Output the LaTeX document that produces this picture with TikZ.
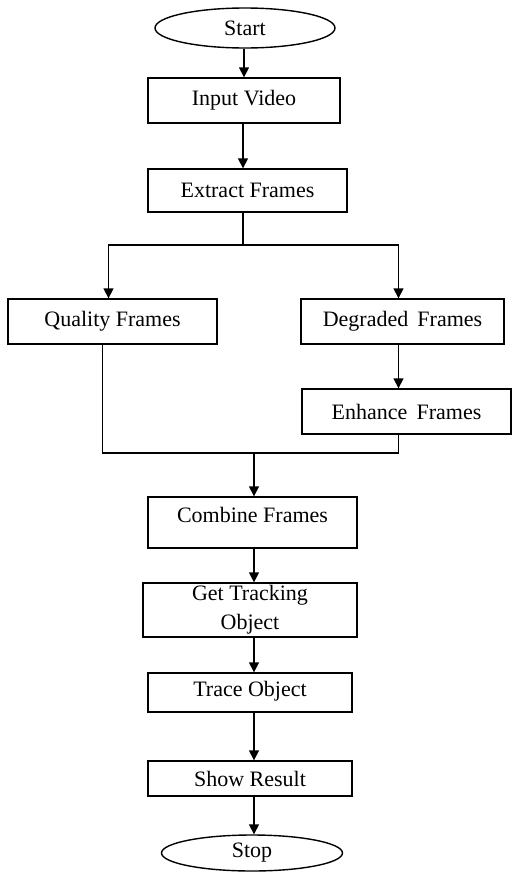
\documentclass[tikz,border=0pt]{standalone}
\usepackage{fontspec}
\setmainfont{Liberation Serif}
\usepackage{tikz}
\usetikzlibrary{shapes,arrows.meta,positioning}
\definecolor{FlowBlack}{HTML}{000000}
\definecolor{FlowWhite}{HTML}{ffffff}
\tikzset{
    % Base node style
    flownode/.style={
        draw=FlowBlack,
        fill=FlowWhite,
        line width=0.7pt,
        align=center,
        inner sep=1pt,
        font=\fontsize{11}{14.5}\selectfont
    },
    % Process box
    stepbox/.style={
        flownode,
        rectangle,
        minimum width=104pt,
        minimum height=22.5pt
    },
    % Terminal node
    termnode/.style={
        flownode,
        ellipse,
        minimum width=90pt,
        minimum height=19pt
    },
    % Arrow style
    myarrow/.style={
        ->,
        >={Triangle[length=5pt,width=5pt]},
        line width=0.8pt,
        draw=FlowBlack
    },
    % Plain line
    myline/.style={
        line width=0.8pt,
        draw=FlowBlack
    }
}
\begin{document}
\begin{tikzpicture}[x=0.5pt, y=-0.5pt]
    \useasboundingbox (0,0) rectangle (512,873);

    \node[termnode, minimum height=20pt] (start) at (245,28) {Start};
    \node[stepbox, minimum width=96pt] (input) at (244,100.5) {Input Video};
    \node[stepbox, minimum width=99.5pt, minimum height=21.5pt] (extract) at (247.5,190.5) {Extract Frames};
    \node[stepbox, minimum width=104.5pt] (quality) at (112.5,321.5) {Quality Frames};
    \node[stepbox, minimum width=101.5pt] (degraded) at (402.5,321.5) {Degraded\, Frames};
    \node[stepbox, minimum width=104.5pt] (enhance) at (406.5,411.5) {Enhance\, Frames};
    \node[stepbox, minimum width=104.5pt, minimum height=25.5pt, text depth=8pt] (combine) at (252.5,522.5) {Combine Frames};
    \node[stepbox, minimum width=107pt, minimum height=27pt] (track) at (250,610) {Get Tracking\\Object};
    \node[stepbox, minimum width=102pt, minimum height=19.5pt, text depth=4pt] (trace) at (250,692.5) {Trace Object};
    \node[stepbox, minimum width=102pt, minimum height=17.5pt] (show) at (250,778.5) {Show Result};
    \node[termnode, minimum width=90.5pt, minimum height=18pt] (stop) at (252,853) {Stop};

    \coordinate (split) at (243,245);
    \coordinate (merge) at (254,453);

    \draw[myarrow] (start.south -| input) -- (input.north);
    \draw[myarrow] (input.south -| split) -- (extract.north -| split);
    \draw[myline] (extract.south -| split) -- (split);
    \draw[myarrow] (split) -| ([xshift=-2pt]quality.north);
    \draw[myarrow] (split) -| ([xshift=-2pt]degraded.north);
    \draw[myarrow] ([xshift=-2pt]degraded.south) -- ([xshift=-2pt]degraded.south |- enhance.north);
    \draw[myline] ([xshift=-5pt]quality.south) |- (merge);
    \draw[myline] ([xshift=-2pt]degraded.south |- enhance.south) |- (merge);
    \draw[myarrow] (merge) -- (merge |- combine.north);
    \draw[myarrow] (combine.south -| merge) -- (track.north -| merge);
    \draw[myarrow] (track.south -| merge) -- (trace.north -| merge);
    \draw[myarrow] (trace.south -| merge) -- (show.north -| merge);
    \draw[myarrow] (show.south -| merge) -- (stop.north -| merge);
\end{tikzpicture}
\end{document}
